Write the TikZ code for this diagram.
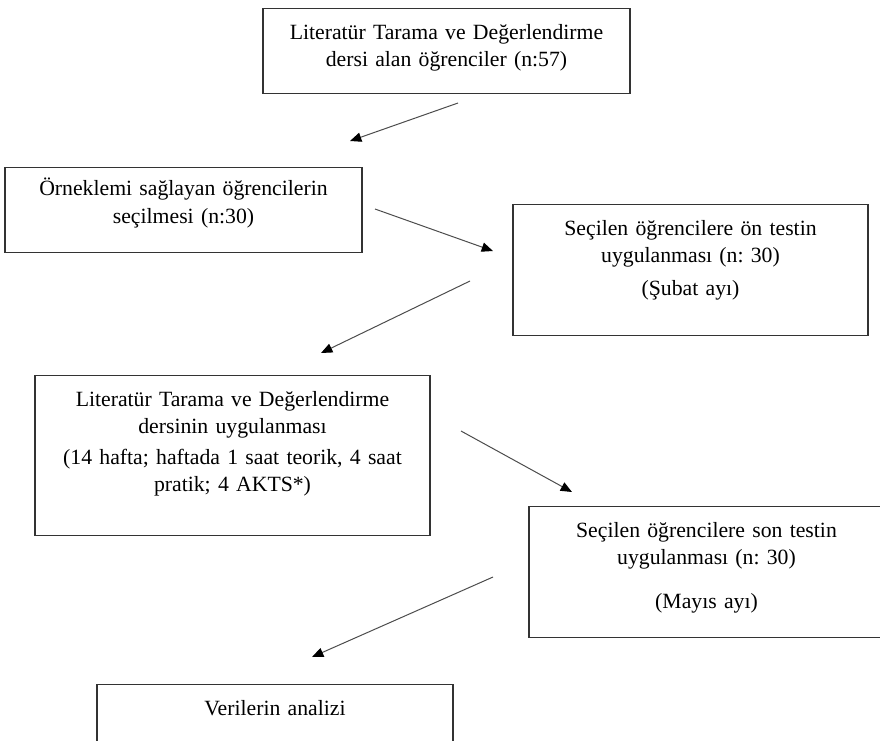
\documentclass[tikz,border=0pt]{standalone}
\usepackage{fontspec}
\setmainfont{Liberation Serif}
\usetikzlibrary{arrows.meta}
\frenchspacing
\tikzset{
every picture/.style={x=0.75pt,y=-0.75pt},
box/.style={draw=black!80, line width=1.1pt, align=center, anchor=north,
  inner xsep=3pt, inner ysep=0pt, text height=23pt, text width=#1,
  font=\fontsize{16.3}{20.6}\selectfont},
ok/.style={draw=black!70, line width=0.75pt, -{Triangle[length=8.5pt,width=7pt,black]}}
}

\begin{document}
\begin{tikzpicture}
      \useasboundingbox (0,0) rectangle (880,740);
      \node[box=269.25pt, text depth=40.75pt] (ogrenciler) at (446.5,8)
        {Literatür Tarama ve Değerlendirme\\ dersi alan öğrenciler (n:57)};
      \node[box=261.75pt, text height=21pt, text depth=42.75pt] (orneklem) at (183.5,167)
        {Örneklemi sağlayan öğrencilerin\\ seçilmesi (n:30)};
      \node[box=260.25pt, text depth=75.25pt] (ontest) at (690.5,204)
        {Seçilen öğrencilere ön testin\\ uygulanması (n: 30)\\[4pt] (Şubat ayı)};
      \node[box=290.25pt, text depth=97pt] (ders) at (232.5,375)
        {Literatür Tarama ve Değerlendirme\\ dersinin uygulanması\\[2pt]
         (14 hafta; haftada 1 saat teorik, 4 saat\\ pratik; 4 AKTS*)};
      \node[box=260.25pt, text depth=75.25pt] (sontest) at (706.5,506)
        {Seçilen öğrencilere son testin\\ uygulanması (n: 30)\\[12pt] (Mayıs ayı)};
      \node[box=261pt, text depth=60pt] (analiz) at (275,684)
        {Verilerin analizi};
      \coordinate (ok1a) at (458,103);
      \coordinate (ok1b) at (350,141);
      \coordinate (ok2a) at (375,209);
      \coordinate (ok2b) at (493,251);
      \coordinate (ok3a) at (470,281);
      \coordinate (ok3b) at (321,353);
      \coordinate (ok4a) at (461,431);
      \coordinate (ok4b) at (572,492);
      \coordinate (ok5a) at (493,577);
      \coordinate (ok5b) at (312,657);
      \draw[ok] (ok1a) -- (ok1b);
      \draw[ok] (ok2a) -- (ok2b);
      \draw[ok] (ok3a) -- (ok3b);
      \draw[ok] (ok4a) -- (ok4b);
      \draw[ok] (ok5a) -- (ok5b);
    \end{tikzpicture}
\end{document}
